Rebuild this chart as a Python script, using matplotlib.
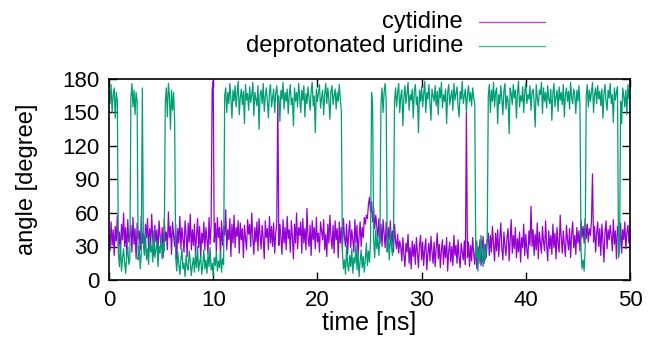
import numpy as np
import matplotlib
matplotlib.use("Agg")
import matplotlib.pyplot as plt
from matplotlib.lines import Line2D

plt.rcParams['font.family'] = ['Liberation Sans', 'DejaVu Sans']

dt = 0.1  # ns between samples

uridine = [
    # 0.0-0.8 high
    170, 158, 175, 150, 166, 172, 145, 168, 160,
    # 0.9-2.0 low
    25, 12, 32, 8, 20, 28, 15, 6, 22, 30, 14, 19,
    # 2.1-2.7 high
    162, 176, 155, 170, 148, 168, 160,
    # 2.8-3.1 low
    18, 30, 10, 24,
    # 3.2 high
    172,
    # 3.3-5.3 low
    35, 22, 42, 18, 28, 14, 38, 25, 31, 16,
    44, 20, 27, 35, 12, 30, 24, 40, 19, 33,
    26,
    # 5.4-6.3 high
    158, 172, 146, 176, 165, 135, 170, 152, 168, 142,
    # 6.4-11.0 low
    20, 8, 25, 14, 5, 18, 28, 10, 15, 3,
    22, 12, 9, 26, 17, 4, 13, 20, 7, 24,
    11, 30, 8, 16, 21, 5, 14, 27, 10, 18,
    6, 23, 12, 29, 9, 15, 4, 20, 13, 25,
    8, 17, 11, 26, 7, 19, 14,
    # 11.1-22.3 high
    165, 172, 150, 168, 158, 176, 162, 145, 170, 160,
    174, 155, 166, 178, 148, 163, 171, 157, 169, 140,
    175, 161, 167, 152, 173, 159, 165, 177, 147, 168,
    162, 156, 174, 135, 166, 170, 158, 176, 151, 164,
    172, 160, 145, 169, 175, 155, 163, 171, 150, 167,
    174, 158, 165, 142, 170, 162, 177, 153, 168, 160,
    171, 149, 166, 175, 157, 163, 138, 172, 160, 168,
    155, 176, 164, 150, 170, 161, 174, 146, 167, 158,
    173, 162, 152, 169, 177, 156, 165, 132, 171, 160,
    168, 175, 154, 163, 170, 148, 166, 176, 158, 172,
    161, 144, 169, 174, 157, 165, 171, 153, 168, 160,
    175, 163, 150,
    # 22.4-25.1 low
    25, 10, 18, 5, 30, 14, 8, 22, 12, 28,
    6, 20, 15, 32, 9, 24, 3, 17, 27, 11,
    21, 7, 19, 33, 13, 26, 16, 35,
    # 25.2-25.3 high
    168, 155,
    # 25.4-26.0 low
    35, 20, 45, 28, 38, 22, 40,
    # 26.1-26.6 high
    158, 172, 150, 168, 176, 160,
    # 26.7-27.3 low
    25, 38, 18, 45, 30, 22, 36,
    # 27.4-35.1 high
    160, 172, 155, 168, 176, 150, 165, 170, 138, 163,
    174, 158, 167, 177, 152, 166, 161, 171, 145, 169,
    175, 157, 164, 132, 170, 160, 173, 155, 166, 178,
    150, 168, 162, 175, 158, 143, 171, 165, 160, 174,
    156, 169, 148, 172, 163, 177, 154, 166, 160, 171,
    140, 168, 175, 157, 164, 170, 152, 176, 161, 167,
    173, 155, 146, 169, 162, 178, 158, 165, 171, 150,
    166, 174, 160, 168, 156, 172, 163, 158,
    # 35.2-36.3 low
    20, 35, 8, 28, 15, 40, 24, 12, 32, 18, 27, 38,
    # 36.4-45.2 high
    165, 175, 150, 170, 160, 177, 155, 168, 172, 140,
    166, 158, 174, 162, 148, 170, 176, 153, 165, 160,
    131, 172, 167, 157, 175, 163, 170, 145, 168, 178,
    155, 165, 160, 173, 150, 169, 176, 158, 166, 162,
    174, 152, 168, 171, 160, 137, 175, 163, 156, 170,
    166, 177, 149, 172, 160, 168, 154, 174, 162, 158,
    171, 143, 167, 176, 155, 164, 170, 151, 173, 161,
    168, 157, 175, 146, 166, 172, 160, 169, 153, 177,
    163, 158, 171, 165, 149, 170, 160, 174, 156,
    # 45.3-45.7 low
    25, 10, 18, 8, 30,
    # 45.8-48.8 high
    165, 175, 155, 170, 160, 168, 177, 150, 166, 172,
    158, 174, 162, 169, 156, 171, 145, 167, 175, 160,
    152, 170, 163, 176, 158, 166, 141, 172, 161, 168,
    173,
    # 48.9-49.0 low
    20, 28,
    # 49.1-50.0 high
    160, 140, 172, 165, 155, 170, 148, 175, 162, 168,
]

cytidine = [
    # 0.0-9.8
    40, 26, 52, 31, 45, 22, 48, 35, 58, 28,
    43, 24, 50, 36, 60, 30, 47, 21, 54, 34,
    39, 49, 25, 56, 32, 46, 19, 51, 37, 44,
    27, 57, 33, 42, 23, 50, 38, 55, 26, 46,
    31, 59, 36, 22, 49, 34, 45, 24, 53, 40,
    29, 47, 20, 55, 35, 43, 27, 61, 38, 48,
    23, 52, 40, 30, 50, 18, 46, 33, 57, 28,
    47, 37, 25, 53, 41, 21, 51, 34, 59, 27,
    45, 31, 50, 24, 39, 55, 29, 48, 20, 42,
    33, 52, 27, 47, 36, 23, 56, 32, 49,
    # 9.9-10.0 spike
    170, 178,
    # 10.1-16.1
    34, 51, 25, 56, 38, 47, 22, 53, 31, 48,
    40, 63, 27, 45, 36, 55, 21, 50, 33, 58,
    29, 47, 39, 53, 24, 51, 36, 46, 20, 49,
    37, 27, 54, 41, 50, 30, 60, 38, 23, 47,
    34, 52, 26, 55, 40, 28, 49, 37, 19, 53,
    38, 46, 27, 57, 33, 48, 30, 51, 24, 42,
    50,
    # 16.2 spike
    165,
    # 16.3-24.7
    31, 50, 38, 23, 54, 33, 47, 27, 57, 37,
    45, 25, 53, 38, 19, 50, 33, 60, 28, 47,
    40, 52, 24, 55, 33, 46, 27, 64, 38, 30,
    49, 22, 53, 36, 47, 28, 56, 34, 42, 25,
    52, 44, 36, 54, 27, 41, 21, 50, 33, 58,
    38, 28, 49, 24, 53, 36, 46, 20, 52, 33,
    47, 27, 55, 38, 30, 50, 23, 42, 53, 29,
    45, 36, 25, 54, 33, 49, 21, 39, 52, 30,
    47, 38, 56, 50, 58,
    # 24.8-25.6 raised
    55, 68, 74, 60, 70, 52, 64, 46, 58,
    # 25.7-27.9
    48, 38, 55, 33, 50, 30, 54, 42, 29, 52,
    27, 47, 36, 53, 30, 44, 25, 50, 35, 28,
    41, 24, 35,
    # 28.0-34.2
    30, 17, 38, 22, 12, 33, 25, 41, 15, 29,
    10, 35, 21, 32, 14, 38, 24, 11, 31, 40,
    18, 34, 13, 28, 37, 9, 24, 33, 17, 39,
    25, 15, 34, 12, 29, 42, 19, 32, 11, 27,
    36, 14, 31, 20, 38, 8, 26, 34, 16, 30,
    13, 40, 22, 31, 15, 36, 20, 11, 33, 25,
    18, 35, 14,
    # 34.3 spike
    150,
    # 34.4-40.4
    20, 34, 12, 31, 17, 38, 24, 14, 33, 10,
    30, 18, 36, 13, 27, 39, 15, 32, 20, 35,
    42, 22, 40, 25, 48, 33, 17, 42, 26, 45,
    21, 37, 51, 28, 18, 43, 30, 22, 39, 46,
    17, 35, 54, 24, 40, 28, 47, 20, 37, 25,
    43, 16, 38, 29, 50, 22, 41, 27, 19, 44,
    31,
    # 40.5 spike
    66,
    # 40.6-46.3
    30, 45, 22, 41, 27, 51, 19, 43, 33, 24,
    48, 34, 26, 53, 31, 17, 44, 28, 40, 23,
    50, 29, 42, 19, 47, 33, 25, 58, 38, 24,
    44, 31, 21, 49, 36, 27, 46, 20, 41, 52,
    29, 40, 23, 47, 33, 44, 26, 53, 38, 48,
    33, 55, 37, 50, 34, 46, 40, 52,
    # 46.4 spike
    95,
    # 46.5-50.0
    34, 48, 25, 42, 52, 30, 46, 22, 50, 35,
    16, 43, 53, 28, 45, 36, 49, 40, 26, 54,
    32, 44, 19, 48, 38, 29, 51, 24, 45, 36,
    52, 28, 42, 49, 33, 47,
]

series_names = ["cytidine", "deprotonated uridine"]
colors = ["#9400d3", "#009e73"]
xticks = [0, 10, 20, 30, 40, 50]
yticks = [0, 30, 60, 90, 120, 150, 180]

t_c = np.arange(len(cytidine)) * dt
t_u = np.arange(len(uridine)) * dt

fig = plt.figure(figsize=(6.48, 3.42), dpi=100)
ax = fig.add_axes([109/648, 1 - 280/342, (630-109)/648, (280-79)/342])

ax.plot(t_c, cytidine, color=colors[0], lw=0.9)
ax.plot(t_u, uridine, color=colors[1], lw=0.9)

ax.set_xlim(0, 50)
ax.set_ylim(0, 180)
ax.set_xticks(xticks)
ax.set_yticks(yticks)
ax.tick_params(direction='in', length=6, width=1, top=True, right=True, labelsize=16, pad=7)
for s in ax.spines.values():
    s.set_linewidth(1.2)
ax.set_xlabel("time [ns]", fontsize=18, labelpad=0)
ax.set_ylabel("angle [degree]", fontsize=17, labelpad=17)

# key
ys = [1 - 22/342, 1 - 46/342]
for name, c, y in zip(series_names, colors, ys):
    fig.text(463/648, y, name, ha='right', va='center', fontsize=17)
    fig.add_artist(Line2D([479/648, 545/648], [y, y], color=c, lw=1.0, alpha=0.7))

fig.savefig("out.png", dpi=100)
